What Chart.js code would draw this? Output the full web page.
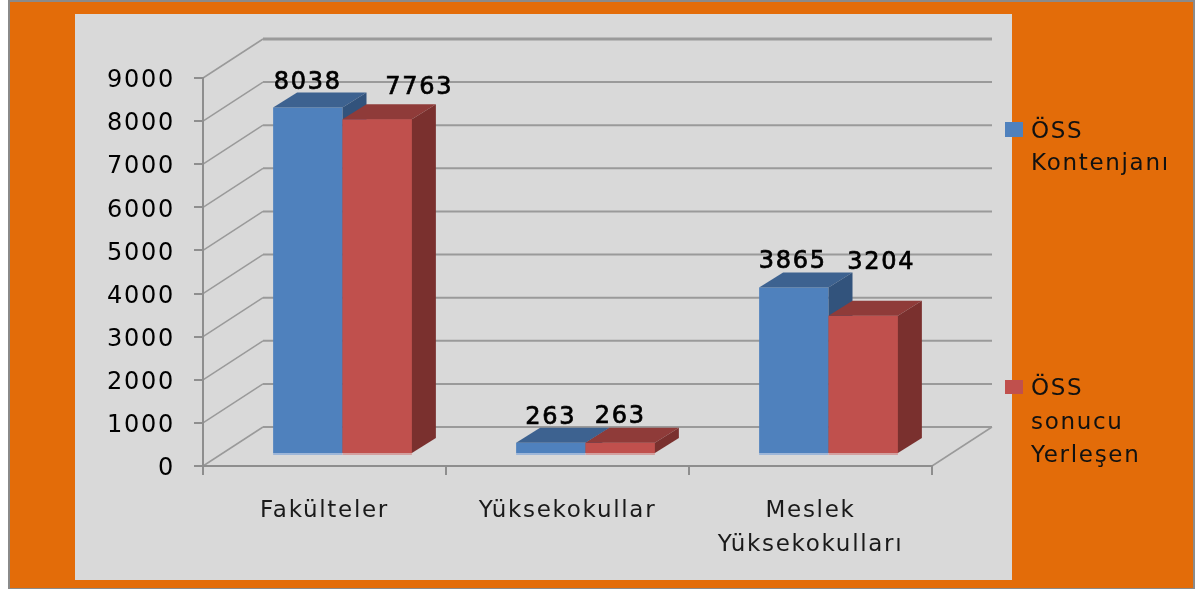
<!DOCTYPE html>
<html lang="tr">
<head>
<meta charset="utf-8">
<title>ÖSS Kontenjanı</title>
<style>
  html, body { margin: 0; padding: 0; background: #fff; overflow: hidden; }
  canvas { display: block; }
</style>
</head>
<body>
<canvas id="chart" width="1195" height="589"></canvas>
<script src="https://cdn.jsdelivr.net/npm/chart.js@4"></script>
<script>
const categories = ['Fakülteler', 'Yüksekokullar', ['Meslek', 'Yüksekokulları']];
const kontenjan = [8038, 263, 3865];
const yerlesen = [7763, 263, 3204];
const kontenjanLegend = ['ÖSS', 'Kontenjanı'];
const yerlesenLegend = ['ÖSS', 'sonucu', 'Yerleşen'];
const yMax = 9000;
const yStep = 1000;

// hand placed in the original, so the value labels need a nudge per bar
const labelNudge = [
  [[0, -25], [0, -25], [-1, -26]],
  [[42, -32], [0, -26], [18, -53]]
];
const legendPos = [
  { x: 1005, y: 122, h: 15, lines: [132, 164] },
  { x: 1005, y: 380, h: 14, lines: [389, 423, 456] }
];

const TEXT = '23px "DejaVu Sans"';
const DIGITS = '24px "DejaVu Sans"';
const SPACING = '1.7px';
const wall = { dx: 60, dy: -39 };   // depth of the floor
const front = { dx: 18, dy: -12 };  // where the bars stand on the floor
const bar = { dx: 24, dy: -15 };    // depth of one bar
const shades = [
  { top: '#3d6290', side: '#32537c', edge: '#9db6d8' },
  { top: '#8f3b39', side: '#7a302e', edge: '#d3a09f' }
];

function drawBox(ctx, el, shade) {
  const left = el.x - el.width / 2, right = el.x + el.width / 2;
  ctx.fillStyle = shade.edge;
  ctx.fillRect(left, el.base, el.width, 2);
  ctx.fillStyle = shade.top;
  ctx.beginPath();
  ctx.moveTo(left, el.y);
  ctx.lineTo(left + bar.dx, el.y + bar.dy);
  ctx.lineTo(right + bar.dx, el.y + bar.dy);
  ctx.lineTo(right, el.y);
  ctx.closePath();
  ctx.fill();
  ctx.fillStyle = shade.side;
  ctx.beginPath();
  ctx.moveTo(right, el.y);
  ctx.lineTo(right + bar.dx, el.y + bar.dy);
  ctx.lineTo(right + bar.dx, el.base + bar.dy);
  ctx.lineTo(right, el.base);
  ctx.closePath();
  ctx.fill();
}

const box3d = {
  id: 'box3d',
  beforeLayout(chart) {
    chart.ctx.letterSpacing = SPACING;
  },
  beforeDraw(chart) {
    const { ctx, scales: { x, y } } = chart;
    ctx.save();
    ctx.fillStyle = '#fff';
    ctx.fillRect(0, 0, 1195, 589);
    ctx.fillStyle = '#8a8a8a';
    ctx.fillRect(8, 0, 1187, 589);
    ctx.fillStyle = '#e36c09';
    ctx.fillRect(10, 2, 1183, 586);
    ctx.fillStyle = '#d9d9d9';
    ctx.fillRect(75, 14, 937, 566);

    // back wall and side wall
    ctx.strokeStyle = '#9a9a9a';
    y.ticks.forEach((t, i) => {
      const py = y.getPixelForValue(t.value);
      ctx.lineWidth = i === y.ticks.length - 1 ? 3 : 2;
      ctx.beginPath();
      ctx.moveTo(x.right + wall.dx, py + wall.dy);
      ctx.lineTo(x.left + wall.dx, py + wall.dy);
      ctx.stroke();
      ctx.lineWidth = 1.5;
      ctx.beginPath();
      ctx.moveTo(x.left + wall.dx, py + wall.dy);
      ctx.lineTo(x.left, py);
      ctx.stroke();
    });
    const floor = y.getPixelForValue(0);
    ctx.lineWidth = 1.5;
    ctx.beginPath();
    ctx.moveTo(x.right + wall.dx, floor + wall.dy);
    ctx.lineTo(x.right, floor);
    ctx.stroke();
    ctx.restore();
  },
  beforeDatasetsDraw(chart) {
    chart.ctx.save();
    chart.ctx.translate(front.dx, front.dy);
  },
  afterDatasetsDraw(chart) {
    const ctx = chart.ctx;
    // red goes over the side of the blue one
    chart.getDatasetMeta(0).data.forEach(el => drawBox(ctx, el, shades[0]));
    chart.getDatasetMeta(1).data.forEach(el => {
      el.draw(ctx);
      drawBox(ctx, el, shades[1]);
    });
    ctx.restore();
  },
  afterDraw(chart) {
    const ctx = chart.ctx;
    ctx.save();
    ctx.textAlign = 'center';
    ctx.textBaseline = 'middle';
    ctx.fillStyle = '#000';
    ctx.strokeStyle = '#000';
    ctx.lineWidth = 0.7;
    ctx.font = DIGITS;
    chart.data.datasets.forEach((ds, i) => {
      chart.getDatasetMeta(i).data.forEach((el, j) => {
        const tx = el.x + front.dx + labelNudge[i][j][0];
        const ty = el.y + front.dy + labelNudge[i][j][1];
        ctx.fillText(ds.data[j], tx, ty);
        ctx.strokeText(ds.data[j], tx, ty);
      });
    });

    ctx.font = TEXT;
    ctx.textAlign = 'left';
    chart.data.datasets.forEach((ds, i) => {
      const pos = legendPos[i];
      ctx.fillStyle = ds.backgroundColor;
      ctx.fillRect(pos.x, pos.y, 18, pos.h);
      ctx.fillStyle = '#111';
      ds.legendLines.forEach((line, k) => ctx.fillText(line, 1031, pos.lines[k]));
    });
    ctx.restore();
  }
};

new Chart(document.getElementById('chart'), {
  type: 'bar',
  data: {
    labels: categories,
    datasets: [
      { label: 'ÖSS Kontenjanı', legendLines: kontenjanLegend, data: kontenjan, backgroundColor: '#4f81bd', clip: false },
      { label: 'ÖSS sonucu Yerleşen', legendLines: yerlesenLegend, data: yerlesen, backgroundColor: '#c0504d', clip: false }
    ]
  },
  options: {
    responsive: false,
    animation: false,
    barPercentage: 1,
    categoryPercentage: 0.571,
    layout: { padding: { left: 0, top: 78, right: 263, bottom: 23 } },
    plugins: { legend: { display: false }, tooltip: { enabled: false } },
    scales: {
      x: {
        afterFit: s => { s.height = 100; },
        border: { color: '#8e8e8e', width: 2 },
        grid: { drawOnChartArea: false, color: '#8e8e8e', lineWidth: 2, tickLength: 9 },
        ticks: { color: '#1a1a1a', font: { family: 'DejaVu Sans', size: 23, lineHeight: 1.48 }, padding: 19, maxRotation: 0, autoSkip: false }
      },
      y: {
        min: 0,
        max: yMax,
        afterFit: s => { s.width = 203; },
        border: { color: '#8e8e8e', width: 2 },
        grid: { drawOnChartArea: false, color: '#8e8e8e', lineWidth: 2, tickLength: 9 },
        // empty first line pushes the number down a little, the axis has no offset option
        ticks: { stepSize: yStep, color: '#000', font: { family: 'DejaVu Sans', size: 24, lineHeight: 0.25 }, padding: 19, callback: v => ['', String(v)] }
      }
    }
  },
  plugins: [box3d]
});
</script>
</body>
</html>
